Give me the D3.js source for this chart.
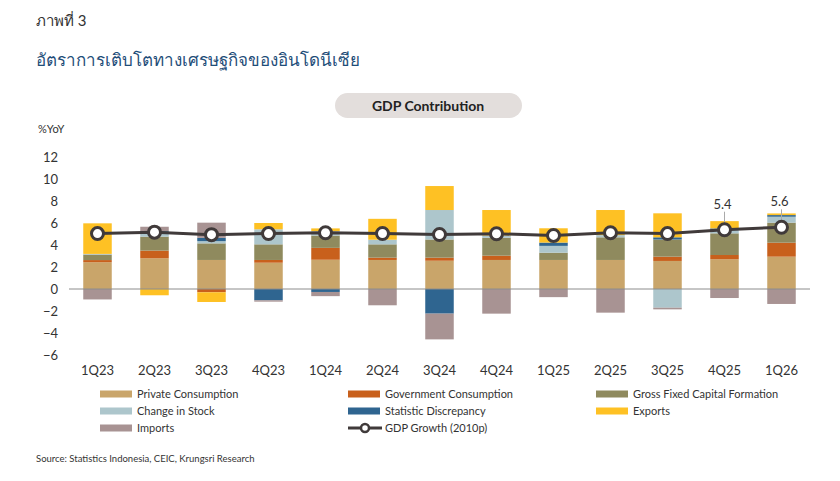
<!DOCTYPE html>
<html>
<head>
<meta charset="utf-8">
<script src="https://cdn.jsdelivr.net/npm/d3@7"></script>
<style>
  body { margin: 0; background: #fff; }
  text { font-family: Lato, "Open Sans", sans-serif; }
</style>
</head>
<body>
<svg id="chart" width="840" height="481"></svg>
<script>
// Quarters and contribution to GDP growth (ppt)
const quarters = ["1Q23", "2Q23", "3Q23", "4Q23", "1Q24", "2Q24", "3Q24", "4Q24", "1Q25", "2Q25", "3Q25", "4Q25", "1Q26"];
const privateCons = [2.43, 2.79, 2.64, 2.39, 2.66, 2.64, 2.57, 2.64, 2.64, 2.64, 2.55, 2.70, 2.94];
const govCons = [0.20, 0.70, -0.30, 0.25, 1.08, 0.21, 0.28, 0.39, 0.00, 0.00, 0.39, 0.39, 1.27];
const gfcf = [0.50, 1.27, 1.51, 1.42, 1.12, 1.21, 1.65, 1.63, 0.66, 2.06, 1.56, 1.97, 1.82];
const stock = [0.06, 0.35, 0.20, 1.37, 0.40, 0.42, 2.68, 0.20, 0.62, 0.20, -1.70, 0.30, 0.54];
const discrepancy = [0.00, 0.15, 0.30, -1.03, -0.27, 0.00, -2.24, 0.00, 0.30, 0.00, 0.20, 0.15, 0.15];
const exportsC = [2.78, -0.57, -0.88, 0.57, 0.25, 1.90, 2.18, 2.32, 1.30, 2.28, 2.18, 0.66, 0.15];
const importsC = [-0.95, 0.40, 1.38, -0.12, -0.38, -1.48, -2.34, -2.24, -0.74, -2.15, -0.15, -0.82, -1.36];
const gdpGrowth = [5.04, 5.17, 4.94, 5.04, 5.11, 5.05, 4.95, 5.02, 4.87, 5.12, 5.04, 5.39, 5.61];
const yTicks = [-6, -4, -2, 0, 2, 4, 6, 8, 10, 12];
const labelled = ["4Q25", "1Q26"];

const series = [
  { key: "Private Consumption", values: privateCons, color: "#c9a56a" },
  { key: "Government Consumption", values: govCons, color: "#c8601c" },
  { key: "Gross Fixed Capital Formation", values: gfcf, color: "#8f8a5e" },
  { key: "Change in Stock", values: stock, color: "#adc6cc" },
  { key: "Statistic Discrepancy", values: discrepancy, color: "#2f6590" },
  { key: "Exports", values: exportsC, color: "#fec124" },
  { key: "Imports", values: importsC, color: "#a89393" }
];

// table for d3.stack
const rows = quarters.map((q, i) => {
  const r = { q: q };
  series.forEach(s => { r[s.key] = s.values[i]; });
  return r;
});

const svg = d3.select("#chart");

// headings
svg.append("text").attr("x", 36).attr("y", 26)
  .style("font-size", "15px").style("fill", "#333").text("ภาพที่ 3");
svg.append("text").attr("x", 36).attr("y", 66)
  .style("font-size", "17px").style("fill", "#1f4e79").text("อัตราการเติบโตทางเศรษฐกิจของอินโดนีเซีย");

// pill title
svg.append("rect").attr("x", 335).attr("y", 93).attr("width", 187).attr("height", 25)
  .attr("rx", 12.5).attr("fill", "#e3dedc");
svg.append("text").attr("x", 428).attr("y", 110.5).attr("text-anchor", "middle")
  .style("font-size", "14px").style("font-weight", "bold").style("fill", "#222").text("GDP Contribution");

svg.append("text").attr("x", 38).attr("y", 133)
  .style("font-size", "11px").style("fill", "#333").text("%YoY");

const x = d3.scaleBand().domain(quarters).range([69, 810]).paddingInner(0.5).paddingOuter(0.25);
const y = d3.scaleLinear().domain([-6, 12]).range([355, 157]);

// y axis labels only
svg.append("g").attr("transform", "translate(58,0)")
  .call(d3.axisLeft(y).tickValues(yTicks).tickSize(0).tickPadding(0))
  .call(g => g.select(".domain").remove())
  .call(g => g.selectAll("text").style("font-size", "13px").style("fill", "#333")
    .style("font-family", "Lato, sans-serif"));

// x labels
svg.append("g").attr("transform", "translate(0,366)")
  .call(d3.axisBottom(x).tickSize(0).tickPadding(0))
  .call(g => g.select(".domain").remove())
  .call(g => g.selectAll("text").style("font-size", "13px").style("fill", "#333")
    .style("font-family", "Lato, sans-serif"));

// stacked bars
const stack = d3.stack().keys(series.map(s => s.key)).offset(d3.stackOffsetDiverging);
const layers = stack(rows);

svg.append("g").selectAll("g").data(layers).join("g")
  .attr("fill", (d, i) => series[i].color)
  .selectAll("rect").data(d => d).join("rect")
  .attr("x", d => x(d.data.q))
  .attr("width", x.bandwidth())
  .attr("y", d => y(Math.max(d[0], d[1])))
  .attr("height", d => Math.abs(y(d[0]) - y(d[1])));

// zero line
svg.append("line").attr("x1", 69).attr("x2", 810).attr("y1", y(0)).attr("y2", y(0))
  .attr("stroke", "#8c8c8c").attr("stroke-width", 1);

// GDP growth line
const cx = q => x(q) + x.bandwidth() / 2;
const line = d3.line().x((d, i) => cx(quarters[i])).y(d => y(d));
svg.append("path").datum(gdpGrowth).attr("d", line)
  .attr("fill", "none").attr("stroke", "#403a3a").attr("stroke-width", 3);

// leader lines and labels for the latest points
quarters.forEach((q, i) => {
  if (!labelled.includes(q)) return;
  svg.append("line").attr("x1", cx(q)).attr("x2", cx(q))
    .attr("y1", y(gdpGrowth[i]) - 4).attr("y2", y(gdpGrowth[i]) - 18)
    .attr("stroke", "#aaa").attr("stroke-width", 1);
  svg.append("text").attr("x", cx(q) - 2).attr("y", y(gdpGrowth[i]) - 21)
    .attr("text-anchor", "middle").style("font-size", "13px").style("fill", "#333")
    .text(gdpGrowth[i].toFixed(1));
});

svg.append("g").selectAll("circle").data(gdpGrowth).join("circle")
  .attr("cx", (d, i) => cx(quarters[i])).attr("cy", d => y(d)).attr("r", 6)
  .attr("fill", "#fff").attr("stroke", "#403a3a").attr("stroke-width", 3);

// legend
const legendItems = series.map(s => ({ key: s.key, color: s.color, type: "bar" }))
  .concat([{ key: "GDP Growth (2010p)", color: "#403a3a", type: "line" }]);
const colX = [100, 348, 596];
const rowY = [394, 411, 428];
const legend = svg.append("g");
legendItems.forEach((d, i) => {
  const lx = colX[i % 3], ly = rowY[Math.floor(i / 3)];
  const g = legend.append("g").attr("transform", `translate(${lx},${ly})`);
  if (d.type === "bar") {
    g.append("rect").attr("x", 0).attr("y", -3.5).attr("width", 32).attr("height", 7).attr("fill", d.color);
  } else {
    g.append("line").attr("x1", 0).attr("x2", 34).attr("y1", 0).attr("y2", 0)
      .attr("stroke", d.color).attr("stroke-width", 3);
    g.append("circle").attr("cx", 17).attr("cy", 0).attr("r", 4)
      .attr("fill", "#fff").attr("stroke", d.color).attr("stroke-width", 2.5);
  }
  g.append("text").attr("x", 37).attr("y", 4).style("font-size", "11px").style("fill", "#333").text(d.key);
});

svg.append("text").attr("x", 36).attr("y", 462)
  .style("font-size", "9.5px").style("fill", "#333")
  .text("Source: Statistics Indonesia, CEIC, Krungsri Research");
</script>
</body>
</html>
